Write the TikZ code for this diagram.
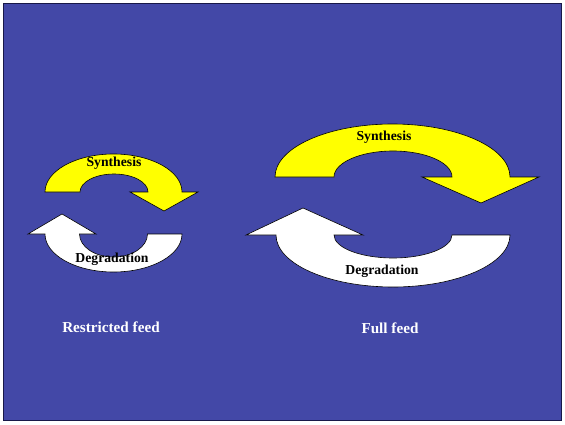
\documentclass[tikz,border=0pt]{standalone}
\usepackage{fontspec}
\setmainfont{Liberation Serif}
\definecolor{bgblue}{RGB}{67,72,167}
\definecolor{framecol}{RGB}{24,24,72}
\definecolor{synyellow}{RGB}{255,255,0}
\tikzset{
  arrowshape/.style={draw=black, line width=0.6pt, line join=miter},
  synth/.style={arrowshape, fill=synyellow},
  degr/.style={arrowshape, fill=white},
  arrowlabel/.style={font=\bfseries\fontsize{13.7}{16}\selectfont, text=black, inner sep=0pt},
  feedlabel/.style={font=\bfseries\fontsize{15.2}{18}\selectfont, text=white, inner sep=0pt}
}
\begin{document}
\begin{tikzpicture}[x=1pt,y=1pt]
\useasboundingbox (0,0) rectangle (565,424);
\fill[white] (0,0) rectangle (565,424);
\draw[fill=bgblue, draw=framecol, line width=1.5pt] (3.5,3.5) rectangle (561.5,420.5);

% small cycle (restricted feed)
\path[synth] (45,232) arc[start angle=180, end angle=0, x radius=68.5, y radius=38]
  -- (198,232) -- (164,213) -- (130,232) -- (148,232)
  arc[start angle=0, end angle=180, x radius=34, y radius=18] -- cycle;
\path[degr] (182,190) arc[start angle=0, end angle=-180, x radius=68.5, y radius=38]
  -- (28,190) -- (62,210) -- (96,190) -- (79.5,190)
  arc[start angle=180, end angle=360, x radius=34, y radius=23] -- cycle;

% large cycle (full feed)
\path[synth] (275,247) arc[start angle=180, end angle=0, x radius=117.5, y radius=53]
  -- (539,247) -- (481,221) -- (422,247) -- (452,247)
  arc[start angle=0, end angle=180, x radius=59, y radius=26] -- cycle;
\path[degr] (510,189) arc[start angle=0, end angle=-180, x radius=117, y radius=52]
  -- (246,189) -- (303,216) -- (363,189) -- (334,189)
  arc[start angle=180, end angle=360, x radius=59, y radius=23] -- cycle;

\node[arrowlabel] (synS) at (114,261) {Synthesis};
\node[arrowlabel] (degS) at (112,165) {Degradation};
\node[arrowlabel] (synL) at (384,287) {Synthesis};
\node[arrowlabel] (degL) at (382,153) {Degradation};
\node[feedlabel] (restricted) at (111,97) {Restricted feed};
\node[feedlabel] (full) at (390,96) {Full feed};
\end{tikzpicture}
\end{document}
